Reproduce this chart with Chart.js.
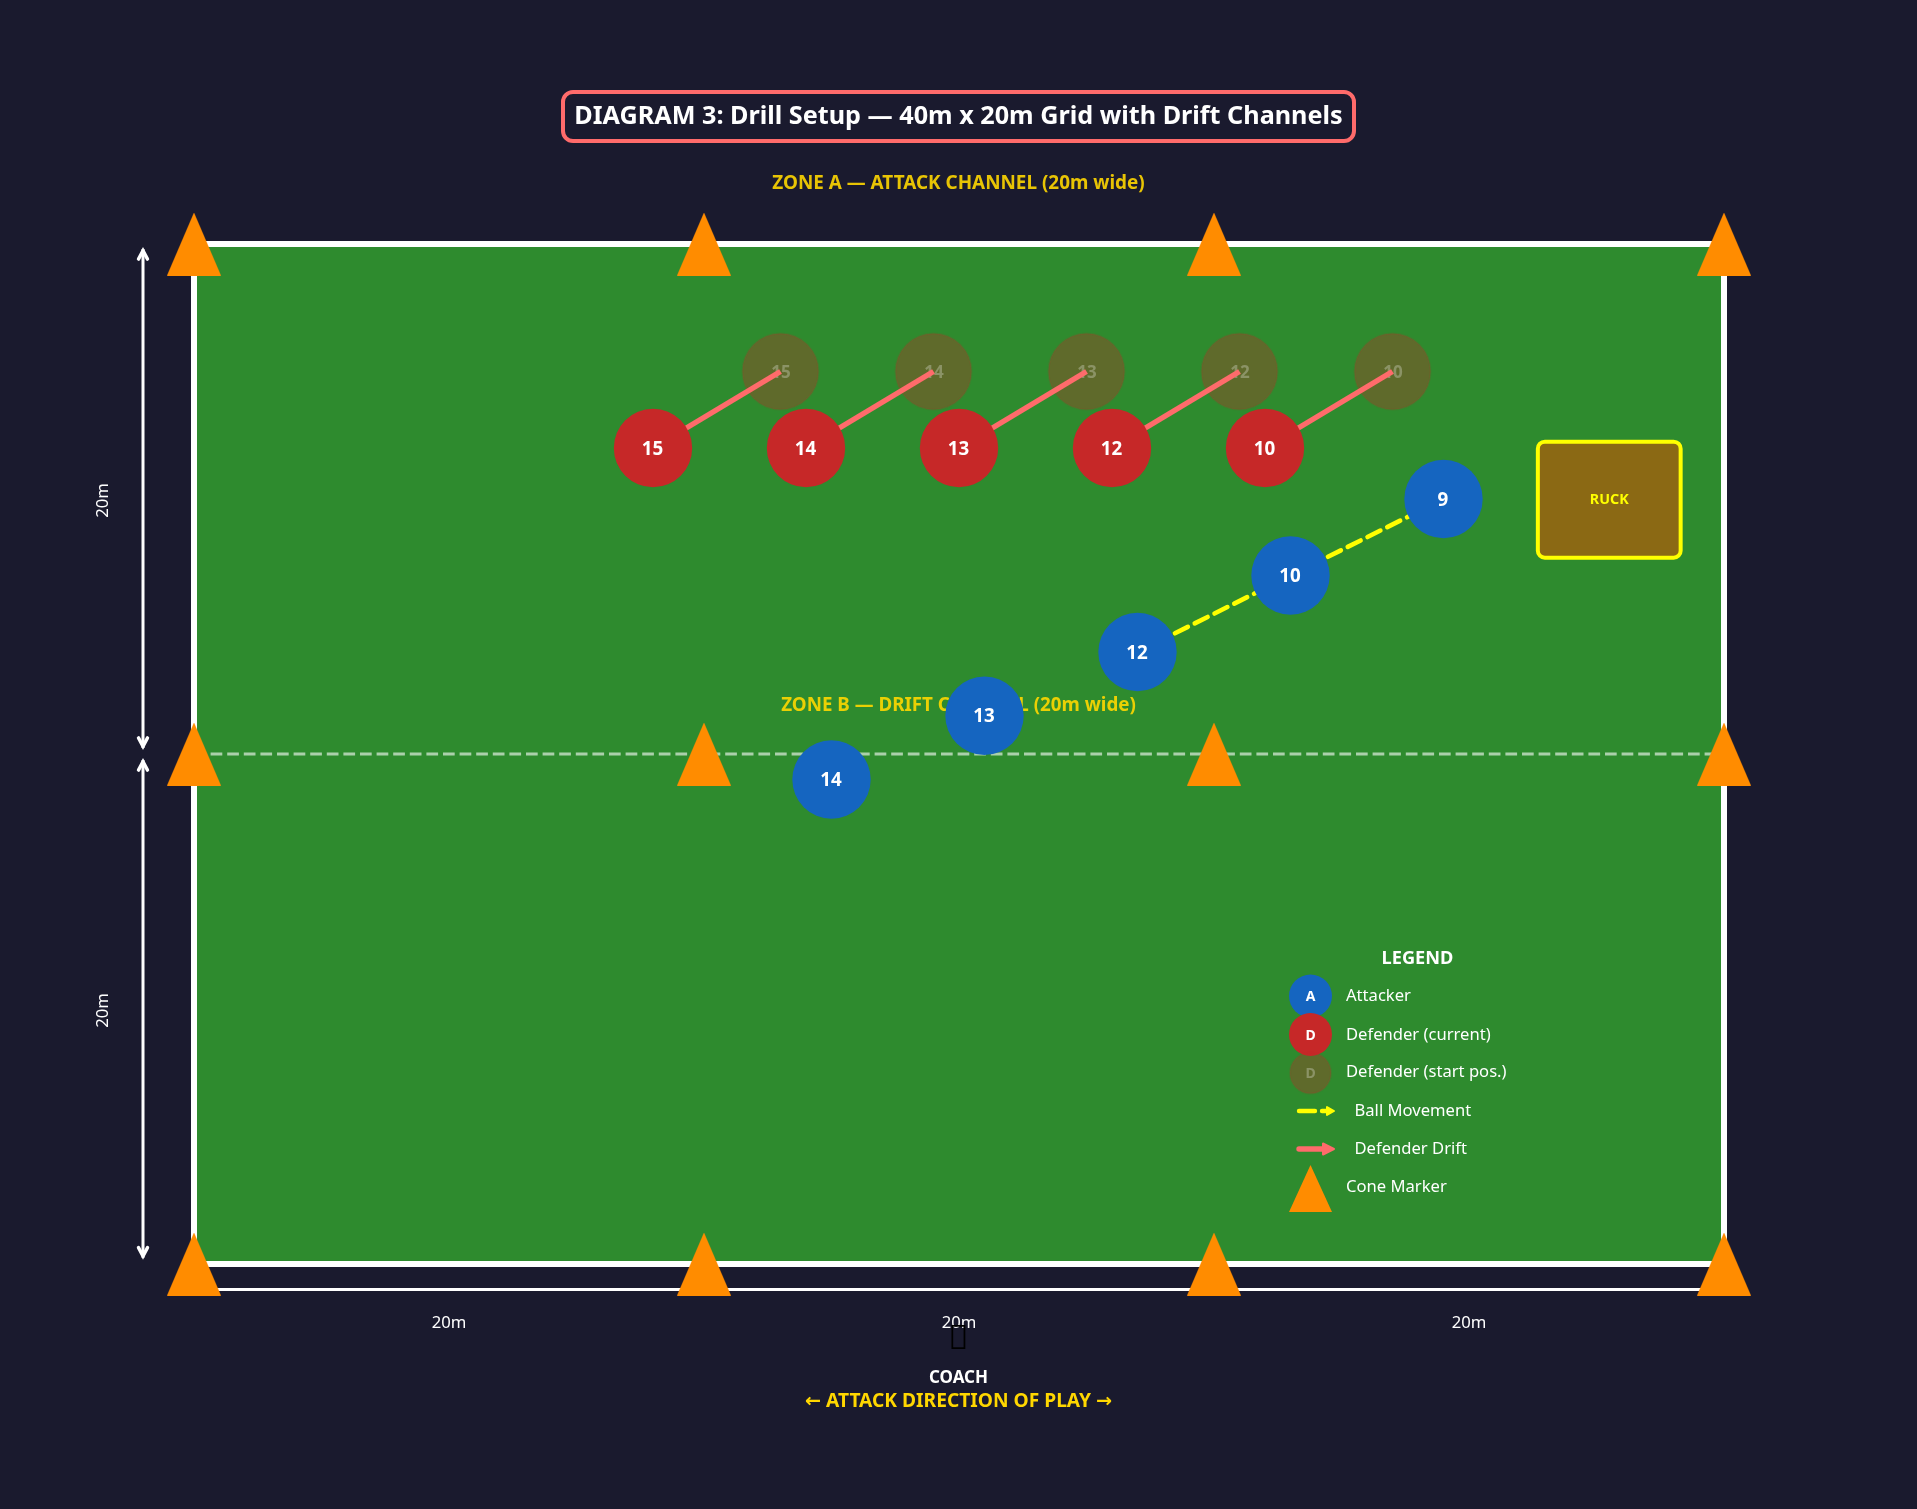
<!DOCTYPE html>
<html>
<head>
<meta charset="UTF-8">
<title>Diagram 3: Drill Setup</title>
<script src="https://cdn.jsdelivr.net/npm/chart.js"></script>
<style>
    html, body { margin: 0; padding: 0; background: #1a1a2e; }
    canvas { display: block; }
</style>
</head>
<body>
<canvas id="drill" width="1917" height="1509"></canvas>
<script>
// pitch values in metres
const attackerNumbers = ['9', '10', '12', '13', '14'];
const attackerX = [49, 43, 37, 31, 25];
const attackerY = [30, 27, 24, 21.5, 19];
const defenderNumbers = ['15', '14', '13', '12', '10'];
const defenderX = [18, 24, 30, 36, 42];
const defenderY = [32, 32, 32, 32, 32];
const defenderStartX = [23, 29, 35, 41, 47];
const defenderStartY = [35, 35, 35, 35, 35];
const ballPathX = [37, 43, 49];
const ballPathY = [24, 27, 30];
const coneColumns = [0, 20, 40, 60];
const coneRows = [40, 20, 0];
const sideDimensionY = [39.8, 20.24, 19.76, 0.25];
const bottomDimensionX = [10, 30, 50];
const sideDimensionLabelY = [30, 10];
const dimensionLabel = '20m';

const FONT = '"Noto Sans", "DejaVu Sans", sans-serif';
const WHITE = '#ffffff', GOLD = '#ffd700', YELLOW = '#ffff00', CORAL = '#ff6b6b';
const RED = '#c62828', BLUE = '#1565c0', ORANGE = '#ff8c00';
const GHOST = 'rgba(198,40,40,0.33)', GHOST_EDGE = 'rgba(198,40,40,0.12)';

function makeCone(w, h) {
    const c = document.createElement('canvas');
    c.width = w;
    c.height = h;
    const g = c.getContext('2d');
    g.fillStyle = ORANGE;
    g.beginPath();
    g.moveTo(w / 2, 0);
    g.lineTo(w, h);
    g.lineTo(0, h);
    g.closePath();
    g.fill();
    return c;
}

function toPoints(xs, ys) {
    return xs.map((x, i) => ({x: x, y: ys[i]}));
}

function text(ctx, str, x, y, font, color, align) {
    ctx.font = font + ' ' + FONT;
    ctx.fillStyle = color;
    ctx.textAlign = align || 'center';
    ctx.textBaseline = 'middle';
    ctx.fillText(str, x, y + 1.2);
}

function roundBox(ctx, x, y, w, h, r, fill, stroke, lw) {
    ctx.beginPath();
    ctx.roundRect(x, y, w, h, r);
    ctx.fillStyle = fill;
    ctx.fill();
    ctx.strokeStyle = stroke;
    ctx.lineWidth = lw;
    ctx.stroke();
}

function circle(ctx, x, y, r, fill, edge) {
    ctx.beginPath();
    ctx.arc(x, y, r, 0, Math.PI * 2);
    ctx.fillStyle = fill;
    ctx.fill();
    if (edge) {
        ctx.strokeStyle = edge;
        ctx.lineWidth = 2;
        ctx.stroke();
    }
}

function chevron(ctx, x, y, dir) {
    ctx.beginPath();
    ctx.moveTo(x - 4.5, y - dir * 10);
    ctx.lineTo(x, y - dir * 1.5);
    ctx.lineTo(x + 4.5, y - dir * 10);
    ctx.strokeStyle = WHITE;
    ctx.lineWidth = 3.4;
    ctx.lineJoin = 'miter';
    ctx.lineCap = 'round';
    ctx.stroke();
}

function arrowSample(ctx, x0, x1, y, color, lw, dash, headLen, headH) {
    ctx.save();
    ctx.strokeStyle = color;
    ctx.fillStyle = color;
    ctx.lineWidth = lw;
    ctx.lineCap = 'round';
    ctx.setLineDash(dash);
    ctx.beginPath();
    ctx.moveTo(x0, y);
    ctx.lineTo(x1 - headLen + 2, y);
    ctx.stroke();
    ctx.setLineDash([]);
    ctx.lineJoin = 'round';
    ctx.lineWidth = 2;
    ctx.beginPath();
    ctx.moveTo(x1 - 1, y);
    ctx.lineTo(x1 - headLen + 1, y - headH);
    ctx.lineTo(x1 - headLen + 1, y + headH);
    ctx.closePath();
    ctx.fill();
    ctx.stroke();
    ctx.restore();
}

// labels that sit on a dataset's points, named by dataset
const pointLabels = {
    start: {labels: defenderNumbers, font: 'bold 17px', color: 'rgba(255,255,255,0.28)', shift: 0.4},
    defender: {labels: defenderNumbers, font: 'bold 18.8px', color: WHITE, shift: -0.6},
    attacker: {labels: attackerNumbers, font: 'bold 18.8px', color: WHITE, shift: -0.6}
};

const drillPlugin = {
    id: 'drill',
    beforeDatasetsDraw(chart) {
        const ctx = chart.ctx, sx = chart.scales.x, sy = chart.scales.y;
        ctx.save();
        ctx.fillStyle = '#1a1a2e';
        ctx.fillRect(0, 0, chart.width, chart.height);

        // pitch
        const left = sx.getPixelForValue(0), right = sx.getPixelForValue(60);
        const top = sy.getPixelForValue(40), bottom = sy.getPixelForValue(0);
        ctx.fillStyle = '#2e8b2e';
        ctx.fillRect(left, top, right - left, bottom - top);
        ctx.strokeStyle = WHITE;
        ctx.lineWidth = 6;
        ctx.strokeRect(left, top, right - left, bottom - top);

        // title box
        roundBox(ctx, 563, 92, 791, 49, 10, '#1a1a2e', CORAL, 4);
        text(ctx, 'DIAGRAM 3: Drill Setup — 40m x 20m Grid with Drift Channels', 958.5, 116, 'bold 25.2px', WHITE);

        ctx.globalAlpha = 0.9;
        text(ctx, 'ZONE A — ATTACK CHANNEL (20m wide)', 958.5, 182.5, 'bold 18.9px', GOLD);
        text(ctx, 'ZONE B — DRIFT CHANNEL (20m wide)', 958.5, 704.5, 'bold 18.8px', GOLD);
        ctx.globalAlpha = 1;

        // ruck
        const rx = sx.getPixelForValue(52.7), ry = sy.getPixelForValue(32.25);
        roundBox(ctx, rx, ry, sx.getPixelForValue(58.3) - rx, sy.getPixelForValue(27.7) - ry, 7, '#8b6914', YELLOW, 4);
        text(ctx, 'RUCK', sx.getPixelForValue(55.5), sy.getPixelForValue(30), 'bold 14.3px', YELLOW);

        // dimension labels
        bottomDimensionX.forEach(v => {
            text(ctx, dimensionLabel, sx.getPixelForValue(v), 1322.5, '16.7px', WHITE);
        });
        sideDimensionLabelY.forEach(v => {
            ctx.save();
            ctx.translate(102.5, sy.getPixelForValue(v) + 1.5);
            ctx.rotate(-Math.PI / 2);
            text(ctx, dimensionLabel, 0, 0, '16.7px', WHITE);
            ctx.restore();
        });
        ctx.restore();
    },
    afterDatasetDraw(chart, args) {
        const spec = pointLabels[args.meta.label];
        if (!spec) return;
        const ctx = chart.ctx;
        ctx.save();
        args.meta.data.forEach((pt, i) => {
            text(ctx, spec.labels[i], pt.x + spec.shift, pt.y, spec.font, spec.color);
        });
        ctx.restore();
    },
    afterDatasetsDraw(chart) {
        const ctx = chart.ctx, sx = chart.scales.x, sy = chart.scales.y;
        ctx.save();

        // dimension arrow heads
        const ax = sx.getPixelForValue(-2);
        sideDimensionY.forEach((v, i) => {
            chevron(ctx, ax, sy.getPixelForValue(v), i % 2 ? 1 : -1);
        });

        text(ctx, '\u{F0000}', 958.5, 1338, '34px', '#000000');
        text(ctx, 'COACH', 958.5, 1377, 'bold 17px', WHITE);
        text(ctx, '← ATTACK DIRECTION OF PLAY →', 958.5, 1400, 'bold 19.2px', GOLD);

        // legend
        text(ctx, 'LEGEND', 1417.5, 957.5, 'bold 18.2px', WHITE);
        circle(ctx, 1310.5, 996, 21.5, BLUE);
        text(ctx, 'A', 1310.5, 996, 'bold 14px', WHITE);
        text(ctx, 'Attacker', 1346, 995.5, '16.6px', WHITE, 'left');
        circle(ctx, 1310.5, 1034.5, 21.5, RED);
        text(ctx, 'D', 1310.5, 1034.5, 'bold 14px', WHITE);
        text(ctx, 'Defender (current)', 1346, 1034, '16.6px', WHITE, 'left');
        circle(ctx, 1310.5, 1073, 20.5, GHOST, GHOST_EDGE);
        text(ctx, 'D', 1310.5, 1073, 'bold 14px', 'rgba(255,255,255,0.28)');
        text(ctx, 'Defender (start pos.)', 1346, 1071.5, '16.6px', WHITE, 'left');
        arrowSample(ctx, 1299, 1335, 1111, YELLOW, 4.4, [16, 7], 9, 4);
        text(ctx, 'Ball Movement', 1354.5, 1110.5, '16.6px', WHITE, 'left');
        arrowSample(ctx, 1299, 1335, 1149, CORAL, 5.4, [], 13, 5.5);
        text(ctx, 'Defender Drift', 1354.5, 1148.5, '16.6px', WHITE, 'left');
        ctx.drawImage(makeCone(43, 47), 1289, 1165);
        text(ctx, 'Cone Marker', 1346, 1186.5, '16.6px', WHITE, 'left');
        ctx.restore();
    }
};

const driftSegments = defenderX.map((x, i) => ({
    type: 'scatter',
    data: [{x: x, y: defenderY[i]}, {x: defenderStartX[i], y: defenderStartY[i]}],
    showLine: true,
    borderColor: CORAL,
    borderWidth: 5.4,
    pointRadius: 0,
    order: 5
}));

const ballSegments = [0, 1].map(i => ({
    type: 'scatter',
    data: [{x: ballPathX[i], y: ballPathY[i]}, {x: ballPathX[i + 1], y: ballPathY[i + 1]}],
    showLine: true,
    borderColor: YELLOW,
    borderWidth: 4.6,
    borderDash: [14.4, 7.7],
    borderDashOffset: 2.3,
    borderCapStyle: 'round',
    pointRadius: 0,
    order: 3
}));

const cones = [];
coneRows.forEach(y => coneColumns.forEach(x => cones.push({x: x, y: y})));

new Chart(document.getElementById('drill'), {
    type: 'scatter',
    data: {
        datasets: [
            {label: 'attacker', data: toPoints(attackerX, attackerY), backgroundColor: BLUE, pointRadius: 39.2, pointBorderWidth: 0, order: 1},
            {label: 'cones', data: cones, pointStyle: makeCone(54, 63), pointRadius: 30, order: 2},
            ...ballSegments,
            {label: 'defender', data: toPoints(defenderX, defenderY), backgroundColor: RED, pointRadius: 39.2, pointBorderWidth: 0, order: 4},
            ...driftSegments,
            {label: 'start', data: toPoints(defenderStartX, defenderStartY), backgroundColor: GHOST, borderColor: GHOST_EDGE, pointRadius: 38, pointBorderWidth: 2, order: 6},
            {label: 'bottomLine', data: [{x: 0, y: -1}, {x: 60, y: -1}], showLine: true, borderColor: WHITE, borderWidth: 3, pointRadius: 0, order: 7},
            {label: 'sideTop', data: [{x: -2, y: sideDimensionY[0]}, {x: -2, y: sideDimensionY[1]}], showLine: true, borderColor: WHITE, borderWidth: 3, pointRadius: 0, order: 7},
            {label: 'sideBottom', data: [{x: -2, y: sideDimensionY[2]}, {x: -2, y: sideDimensionY[3]}], showLine: true, borderColor: WHITE, borderWidth: 3, pointRadius: 0, order: 7},
            {label: 'midLine', data: [{x: 0, y: 20}, {x: 60, y: 20}], showLine: true, borderColor: 'rgba(255,255,255,0.6)', borderWidth: 3, borderDash: [11.7, 4.9], pointRadius: 0, order: 8}
        ]
    },
    options: {
        responsive: false,
        devicePixelRatio: 1,
        animation: false,
        layout: {padding: 0, autoPadding: false},
        events: [],
        plugins: {legend: {display: false}, tooltip: {enabled: false}},
        scales: {
            // 25.5 px per metre, pitch corner at pixel (194, 1264)
            x: {type: 'linear', display: false, min: -194 / 25.5, max: (1917 - 194) / 25.5},
            y: {type: 'linear', display: false, min: -(1509 - 1264) / 25.5, max: 1264 / 25.5}
        }
    },
    plugins: [drillPlugin]
});
</script>
</body>
</html>
